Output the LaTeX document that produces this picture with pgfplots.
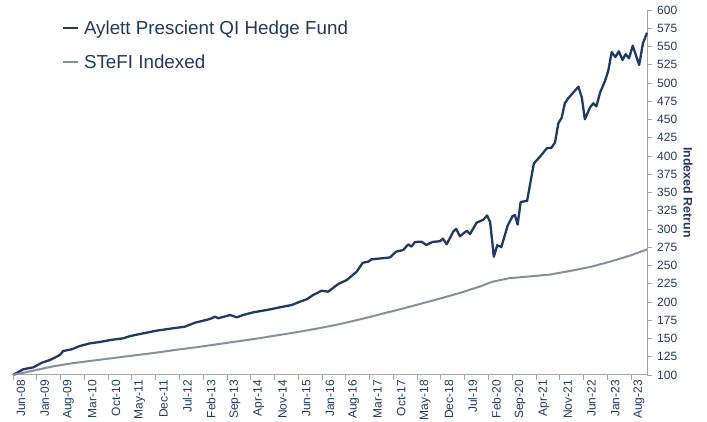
\documentclass[border=0pt]{standalone}
\usepackage{fontspec}
\setmainfont{Liberation Sans}
\usepackage{pgfplots}
\pgfplotsset{compat=1.18}
\definecolor{navy}{RGB}{31,56,100}
\definecolor{stefi}{RGB}{132,145,155}
\definecolor{axgray}{RGB}{166,166,166}
\begin{document}
\begin{tikzpicture}[x=1pt,y=1pt]
\path[use as bounding box] (0,0) rectangle (707,422);
\begin{axis}[
  at={(13pt,47pt)}, anchor=south west,
  scale only axis, width=634pt, height=365pt,
  xmin=0, xmax=186.7, ymin=100, ymax=600,
  axis x line=bottom, axis y line=right,
  axis line style={axgray, line width=1pt, -},
  tick align=outside, major tick length=5pt,
  tick style={axgray, line width=0.8pt},
  xtick={0,7,...,182},
  xticklabels={Jun-08,Jan-09,Aug-09,Mar-10,Oct-10,May-11,Dec-11,Jul-12,Feb-13,Sep-13,Apr-14,Nov-14,Jun-15,Jan-16,Aug-16,Mar-17,Oct-17,May-18,Dec-18,Jul-19,Feb-20,Sep-20,Apr-21,Nov-21,Jun-22,Jan-23,Aug-23},
  ytick={100,125,...,600},
  /pgf/number format/assume math mode=true,
  ticklabel style={font=\fontsize{12}{14}\selectfont, text=navy},
  xticklabel style={rotate=90, anchor=east, inner sep=0pt, yshift=-8pt},
  yticklabel style={anchor=west, inner sep=0pt, xshift=5pt},
  legend style={at={(rel axis cs:0,1)}, anchor=north west, draw=none, fill=none,
    inner sep=0pt, outer sep=0pt, xshift=48.7pt, yshift=-10.7pt,
    font=\fontsize{18.8}{22}\selectfont, text=navy, row sep=20.8pt, column sep=5pt,
    nodes={inner sep=0pt, text height=13.5pt, text depth=0pt}},
  legend image code/.code={\draw[#1] (0pt,-0.3pt) -- (15pt,-0.3pt);},
  legend cell align=left,
  clip=false,
]
\addplot[navy, line width=2.3pt, line join=round] coordinates {
(0,100) (3,107.8) (6,110.5) (8.5,116.8) (10.9,120.5) (13.8,127.4) (14.8,132.9) (17.3,135.2)
(19.7,139.7) (22.7,143.4) (25.6,145.2) (28.6,147.9) (32.5,150.3) (34.5,153.4) (38.4,157.1)
(42.3,160.7) (46.2,163.4) (50.6,166.2) (53.6,171.6) (58.0,176.7) (59.5,179.9) (60.5,177.7)
(63.9,182.2) (65.9,179.0) (67.8,182.2) (70.8,185.9) (74.7,189.0) (78.6,192.7) (82.1,195.9)
(84.5,200.4) (86.5,203.7) (88.4,209.6) (90.9,215.5) (92.8,214.1) (95.8,224.7) (98.3,230.1)
(101.2,241.5) (103.0,253.8) (104.6,255.2) (105.6,258.5) (108.1,259.6) (111.0,261.0)
(112.8,268.9) (114.9,271.2) (116.4,279.0) (117.3,275.8) (118.4,282.2) (120.3,282.6)
(121.7,278.1) (123.5,282.2) (125.7,283.3) (126.6,286.7) (127.7,279.0) (129.7,296.8)
(130.5,300.0) (131.6,290.0) (133.6,297.5) (134.6,293.2) (136.5,308.6) (138.5,312.7)
(139.6,318.5) (140.5,309.6) (141.6,262.1) (142.6,277.8) (143.8,275.3) (145.7,305.1)
(147.1,317.5) (147.8,319.2) (148.6,306.0) (149.5,337.0) (151.4,338.6) (152.4,364.8)
(153.4,390.0) (155.2,399.1) (157.2,410.6) (158.6,411.4) (159.6,418.5) (160.6,444.8)
(161.6,452.7) (162.5,472.2) (163.5,479.0) (166.5,494.9) (167.5,480.1) (168.4,450.3)
(169.9,466.4) (170.9,472.2) (171.8,468.1) (172.9,487.0) (174.3,502.3) (175.3,516.9)
(176.3,542.2) (177.4,535.6) (178.4,543.4) (179.5,531.5) (180.4,539.5) (181.4,533.8)
(182.5,551.1) (184.4,524.7) (185.5,554.4) (186.7,568.9)
};
\addlegendentry{Aylett Prescient QI Hedge Fund}
\addplot[stefi, line width=2pt, line join=round] coordinates {
(0,100) (3,103) (6,106) (12,112) (18,116.5) (24,120) (30,123.5) (36,127) (42,130.5)
(48,134.5) (54,138) (60,142) (66,146) (72,150) (78,154.5) (84,159) (90,164) (96,169.5)
(102,176) (108,183) (114,190) (120,197.5) (126,205) (132,213) (138,222) (141,227.5)
(146,232.5) (152,235) (158,237.5) (164,242.5) (170,248) (176,255.5) (182,264) (186.7,272)
};
\addlegendentry{STeFI Indexed}
\path (rel axis cs:1,0.5) ++(41pt,0pt) node[rotate=-90, font=\fontsize{12.4}{14}\selectfont\bfseries, text=navy] {Indexed Retrun};
\end{axis}
\end{tikzpicture}
\end{document}
